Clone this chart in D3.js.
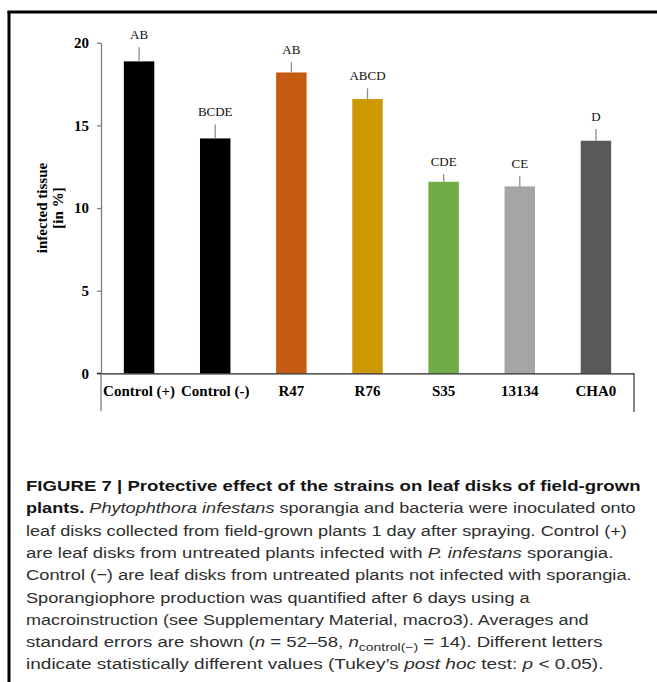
<!DOCTYPE html>
<html>
<head>
<meta charset="utf-8">
<script src="https://cdn.jsdelivr.net/npm/d3@7"></script>
<style>
  html, body { margin: 0; padding: 0; background: #fff; }
  svg { display: block; }
</style>
</head>
<body>
<svg id="chart" width="657" height="682"></svg>
<script>
// ---- data ----
const categories = ["Control (+)", "Control (-)", "R47", "R76", "S35", "13134", "CHA0"];
const means      = [18.87, 14.21, 18.20, 16.59, 11.59, 11.31, 14.07];
const stdErrors  = [0.85, 0.85, 0.61, 0.65, 0.47, 0.62, 0.71];
const letters    = ["AB", "BCDE", "AB", "ABCD", "CDE", "CE", "D"];
const barColors  = ["#000000", "#000000", "#C55A11", "#CC9900", "#70AD47", "#A5A5A5", "#595959"];
const yTicks     = [0, 5, 10, 15, 20];
const yLabelLines = ["infected tissue", "[in %]"];

const svg = d3.select("#chart");

// figure frame (left and top edges visible)
svg.append("line").attr("x1", 9).attr("x2", 9).attr("y1", 11).attr("y2", 682)
  .attr("stroke", "#000").attr("stroke-width", 3);
svg.append("line").attr("x1", 7.5).attr("x2", 657).attr("y1", 12).attr("y2", 12)
  .attr("stroke", "#000").attr("stroke-width", 3);

// scales
const x = d3.scaleBand().domain(categories).range([101, 634]).paddingInner(0.6).paddingOuter(0.3);
const y = d3.scaleLinear().domain([0, 20]).range([373.4, 42.7]);

const serif = "'Liberation Serif', 'Times New Roman', serif";

// y axis
const yAxis = svg.append("g").attr("transform", "translate(101,0)")
  .call(d3.axisLeft(y).tickValues(yTicks).tickSize(4).tickSizeOuter(0).tickPadding(8));
yAxis.select(".domain").attr("stroke", "#7f7f7f").attr("stroke-width", 1.3);
yAxis.selectAll(".tick line").attr("stroke", "#7f7f7f").attr("stroke-width", 1.3);
yAxis.selectAll(".tick text").attr("font-family", serif).attr("font-size", 15)
  .attr("font-weight", "bold").attr("fill", "#000");

// y label
yLabelLines.forEach((t, i) => {
  svg.append("text")
    .attr("transform", `translate(${41.7 + i * 16.6},208) rotate(-90)`)
    .attr("text-anchor", "middle").attr("dominant-baseline", "central")
    .attr("font-family", serif).attr("font-size", 15).attr("font-weight", "bold")
    .attr("fill", "#000").text(t);
});

// bars
svg.append("g").selectAll("rect").data(categories).join("rect")
  .attr("x", d => x(d)).attr("width", x.bandwidth())
  .attr("y", (d, i) => y(means[i])).attr("height", (d, i) => y(0) - y(means[i]))
  .attr("fill", (d, i) => barColors[i]);

// error bars (upper only)
svg.append("g").selectAll("line").data(categories).join("line")
  .attr("x1", d => x(d) + x.bandwidth() / 2).attr("x2", d => x(d) + x.bandwidth() / 2)
  .attr("y1", (d, i) => y(means[i])).attr("y2", (d, i) => y(means[i] + stdErrors[i]))
  .attr("stroke", "#8c8c8c").attr("stroke-width", 1.3);

// letters
svg.append("g").selectAll("text").data(categories).join("text")
  .attr("x", d => x(d) + x.bandwidth() / 2)
  .attr("y", (d, i) => y(means[i] + stdErrors[i]) - 8)
  .attr("text-anchor", "middle").attr("font-family", serif).attr("font-size", 13)
  .attr("fill", "#111").text((d, i) => letters[i]);

// x axis
const xAxis = svg.append("g").attr("transform", `translate(0,${y(0)})`)
  .call(d3.axisBottom(x).tickSize(0).tickSizeOuter(0).tickPadding(12));
xAxis.select(".domain").attr("stroke", "#222").attr("stroke-width", 1.3);
xAxis.selectAll(".tick text").attr("font-family", serif).attr("font-size", 15)
  .attr("font-weight", "bold").attr("fill", "#000");
svg.append("line").attr("x1", 97).attr("x2", 101).attr("y1", y(0)).attr("y2", y(0))
  .attr("stroke", "#222").attr("stroke-width", 1.3);
svg.append("line").attr("x1", 101).attr("x2", 101).attr("y1", y(0)).attr("y2", 411)
  .attr("stroke", "#7f7f7f").attr("stroke-width", 1.3);
svg.append("line").attr("x1", 634).attr("x2", 634).attr("y1", y(0)).attr("y2", 412)
  .attr("stroke", "#444").attr("stroke-width", 1.3);

// ---- caption ----
const sans = "'Liberation Sans', Arial, Helvetica, sans-serif";
const captionLines = [
  [["FIGURE 7 | Protective effect of the strains on leaf disks of field-grown", "b"]],
  [["plants.", "b"], [" ", ""], ["Phytophthora infestans", "i"], [" sporangia and bacteria were inoculated onto", ""]],
  [["leaf disks collected from field-grown plants 1 day after spraying. Control (+)", ""]],
  [["are leaf disks from untreated plants infected with ", ""], ["P. infestans", "i"], [" sporangia.", ""]],
  [["Control (\u2212) are leaf disks from untreated plants not infected with sporangia.", ""]],
  [["Sporangiophore production was quantified after 6 days using a", ""]],
  [["macroinstruction (see Supplementary Material, macro3). Averages and", ""]],
  [["standard errors are shown (", ""], ["n", "i"], [" = 52\u201358, ", ""], ["n", "i"], ["control(\u2212)", "sub"], [" = 14). Different letters", ""]],
  [["indicate statistically different values (Tukey\u2019s ", ""], ["post hoc", "i"], [" test: ", ""], ["p", "i"], [" < 0.05).", ""]]
];
// right end (px) of each caption line in the reference
const captionLineEnds = [641, 636, 627, 614, 632, 530, 589, 603, 604];
const capX = 26, capFont = 15.5;
const cap = svg.append("g");
captionLines.forEach((segs, li) => {
  const t = cap.append("text").attr("x", 0).attr("y", 0)
    .attr("font-family", sans).attr("font-size", capFont).attr("fill", "#2e2e2e");
  segs.forEach(([s, st]) => {
    const ts = t.append("tspan").text(s);
    if (st === "b") ts.attr("font-weight", "bold").attr("fill", "#141414");
    if (st === "i") ts.attr("font-style", "italic");
    if (st === "sub") ts.attr("font-size", capFont * 0.75).attr("dy", 4);
  });
  const idx = segs.findIndex(s => s[1] === "sub");
  if (idx >= 0) {
    const spans = t.selectAll("tspan").nodes();
    if (spans[idx + 1]) d3.select(spans[idx + 1]).attr("dy", -4);
  }
  const w = t.node().getComputedTextLength();
  const sx = (captionLineEnds[li] - capX) / w;
  t.attr("transform", `translate(${capX},${491 + li * 22.3}) scale(${sx},1)`);
});
</script>
</body>
</html>
